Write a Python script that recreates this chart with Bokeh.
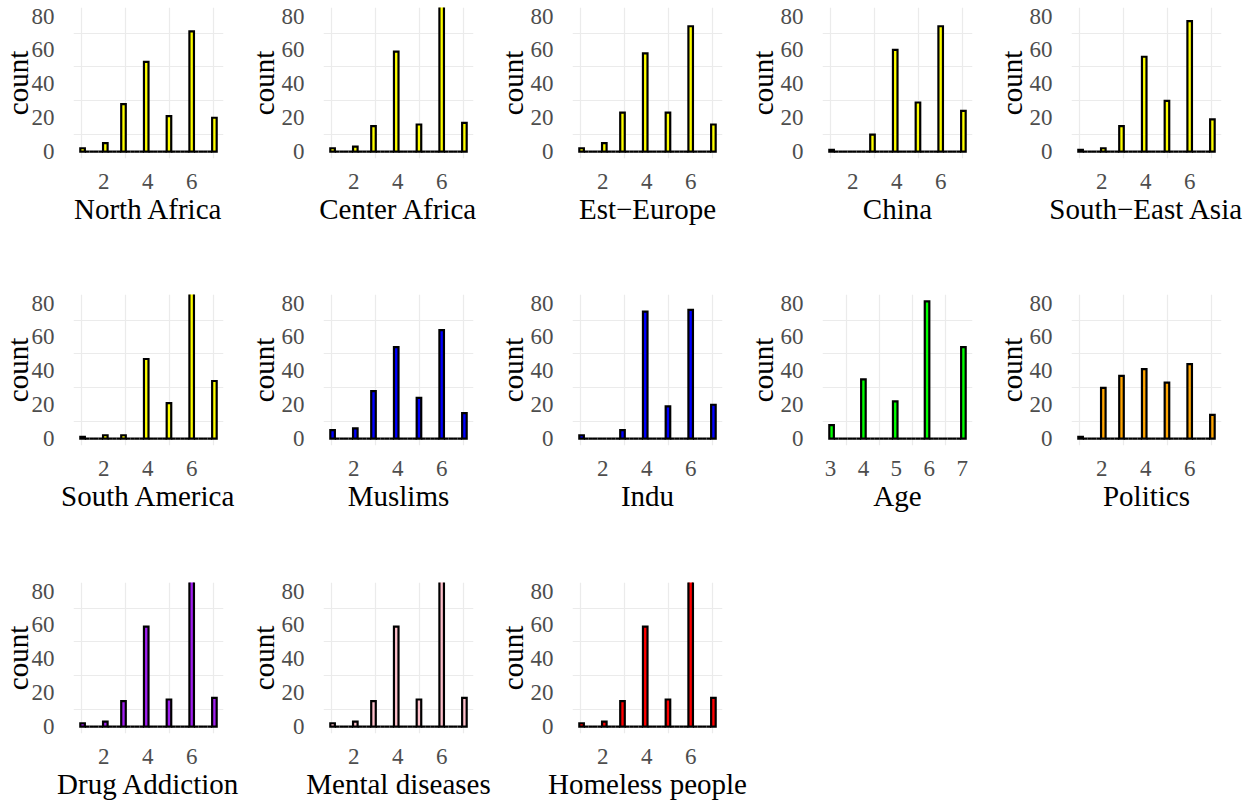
import math
import numpy as np
from bokeh.plotting import figure
from bokeh.layouts import column, row
from bokeh.models import Range1d, FixedTicker
from bokeh.embed import file_html
from bokeh.resources import INLINE

# ---------------- data (counts of answers per scale value) ----------------
scale = [1, 2, 3, 4, 5, 6, 7]
age_scale = [3, 4, 5, 6, 7]

north_africa = [2, 5, 28, 53, 21, 71, 20]
center_africa = [2, 3, 15, 59, 16, 88, 17]
est_europe = [2, 5, 23, 58, 23, 74, 16]
china = [1, 0, 10, 60, 29, 74, 24]
south_east_asia = [1, 2, 15, 56, 30, 77, 19]
south_america = [1, 2, 2, 47, 21, 93, 34]
muslims = [5, 6, 28, 54, 24, 64, 15]
indu = [2, 0, 5, 75, 19, 76, 20]
age = [8, 35, 22, 81, 54]
politics = [1, 30, 37, 41, 33, 44, 14]
drug_addiction = [2, 3, 15, 59, 16, 88, 17]
mental_diseases = [2, 3, 15, 59, 16, 88, 17]
homeless_people = [2, 3, 15, 59, 16, 88, 17]

titles = ["North Africa", "Center Africa", "Est\u2212Europe", "China", "South\u2212East Asia",
          "South America", "Muslims", "Indu", "Age", "Politics",
          "Drug Addiction", "Mental diseases", "Homeless people"]
series = [north_africa, center_africa, est_europe, china, south_east_asia,
          south_america, muslims, indu, age, politics,
          drug_addiction, mental_diseases, homeless_people]
scales = [scale] * 8 + [age_scale] + [scale] * 4
colors = ["#FFFF00"] * 6 + ["#0000FF", "#0000FF", "#00FF00", "#FFA500",
                            "#A020F0", "#FFC0CB", "#FF0000"]

x_ticks = [2, 4, 6]
x_minor = [1, 3, 5, 7]
age_ticks = [3, 4, 5, 6, 7]
age_minor = [3.5, 4.5, 5.5, 6.5]
y_ticks = [0, 20, 40, 60, 80]
y_minor = [10, 30, 50, 70]
y_limits = (0, 81)
y_title = "count"
N_BINS = 30

FONT = "Liberation Serif"


def gg_hist(values, counts, nbins=N_BINS):
    """Bin the answers the way ggplot2's geom_histogram(bins=30) does."""
    present = [v for v, c in zip(values, counts) if c > 0]
    lo, hi = min(present), max(present)
    w = (hi - lo) / (nbins - 1)
    boundary = w / 2
    shift = math.floor((lo - boundary) / w)
    origin = boundary + shift * w
    edges = origin + w * np.arange(nbins + 1)
    binned = np.zeros(nbins)
    for v, c in zip(values, counts):
        k = int(math.ceil((v - origin) / w - 1e-7)) - 1
        k = min(max(k, 0), nbins - 1)
        binned[k] += c
    return edges[:-1], edges[1:], binned


FRAME_W, FRAME_H = 150, 151
BORDER_LEFT, BORDER_TOP = 79, 7


def make_panel(title, values, counts, color, width, height, first_col):
    left, right, top = gg_hist(values, counts)
    span = right[-1] - left[0]
    x0, x1 = left[0] - 0.05 * span, right[-1] + 0.05 * span
    yspan = y_limits[1] - y_limits[0]
    y0, y1 = y_limits[0] - 0.05 * yspan, y_limits[1] + 0.05 * yspan
    p = figure(width=width, height=height, output_backend="svg", toolbar_location=None,
               x_range=Range1d(x0, x1), y_range=Range1d(y0, y1))
    p.min_border_left = BORDER_LEFT
    p.min_border_right = width - BORDER_LEFT - FRAME_W
    p.min_border_top = BORDER_TOP
    p.min_border_bottom = height - BORDER_TOP - FRAME_H
    p.outline_line_color = None
    p.background_fill_color = "white"
    p.border_fill_color = "white"

    p.quad(left=left, right=right, bottom=0, top=top, fill_color=color,
           line_color="black", line_width=2.2, line_join="miter")

    is_age = values == age_scale
    p.xaxis.ticker = FixedTicker(ticks=age_ticks if is_age else x_ticks,
                                 minor_ticks=age_minor if is_age else x_minor)
    p.yaxis.ticker = FixedTicker(ticks=y_ticks, minor_ticks=y_minor)

    for ax in (p.xaxis[0], p.yaxis[0]):
        ax.axis_line_color = None
        ax.major_tick_line_color = None
        ax.minor_tick_line_color = None
        ax.major_label_text_font = FONT
        ax.major_label_text_font_size = "23px"
        ax.major_label_text_color = "#4D4D4D"
        ax.axis_label_text_font = FONT
        ax.axis_label_text_font_size = "29px"
        ax.axis_label_text_font_style = "normal"
        ax.axis_label_text_color = "black"
    p.xaxis.axis_label = title
    p.xaxis.major_label_standoff = 9
    p.xaxis.axis_label_standoff = 1
    p.yaxis.axis_label = y_title
    p.yaxis.major_label_standoff = 13
    # leftmost column: keep the y title fully inside the page
    p.yaxis.axis_label_standoff = -5 if first_col else -1

    for g in (p.xgrid[0], p.ygrid[0]):
        g.grid_line_color = None
        g.minor_grid_line_color = "#EBEBEB"
        g.minor_grid_line_width = 1.2
    return p


row_widths = [[250, 249, 250, 249, 257],
              [250, 249, 250, 249, 257],
              [250, 249, 300]]
row_heights = [287, 288, 230]

rows = []
idx = 0
for r, widths in enumerate(row_widths):
    figs = []
    for c, w in enumerate(widths):
        figs.append(make_panel(titles[idx], scales[idx], series[idx], colors[idx],
                               w, row_heights[r], c == 0))
        idx += 1
    rows.append(row(*figs))

# the left border of each panel is wider than the space ggplot left,
# so shift the whole grid a little to the left
layout = column(*rows, margin=(0, 0, 0, -6))

open("out.html", "w").write(file_html(layout, INLINE))
